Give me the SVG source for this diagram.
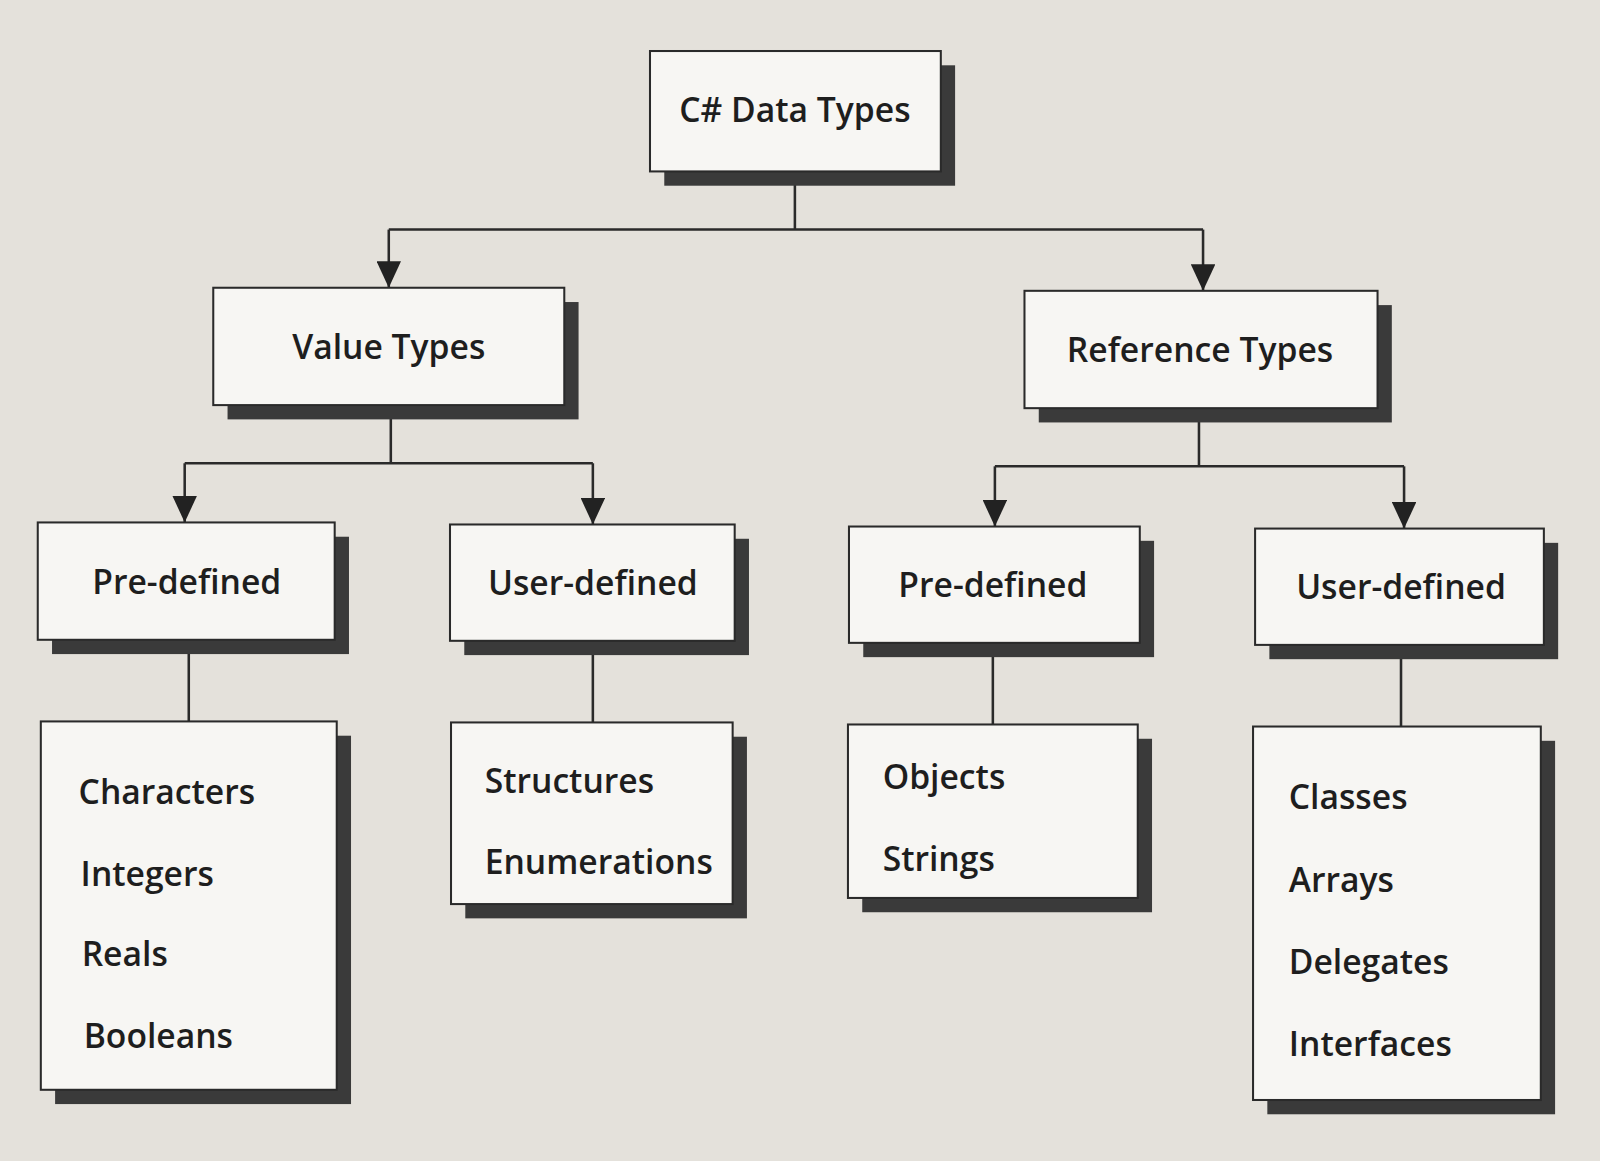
<svg xmlns="http://www.w3.org/2000/svg" width="1600" height="1161" viewBox="0 0 1600 1161">
<style>
.bx{fill:#f7f6f3;stroke:#2a2a2a;stroke-width:2}
.sh{fill:#3a3a3a}
.t{font-family:"Open Sans","Liberation Sans",sans-serif;font-weight:600;font-size:33px;fill:#1e1e1e}
.c{text-anchor:middle}
.ln{stroke:#2a2a2a;stroke-width:2.5;fill:none}
</style>
<defs>
<marker id="ar" viewBox="0 0 26 24" refX="26" refY="12" markerWidth="26" markerHeight="24" markerUnits="userSpaceOnUse" orient="auto"><path d="M0,0 L26,12 L0,24 Z" fill="#222"/></marker></defs>
<rect width="1600" height="1161" fill="#e4e1db"/>
<g transform="scale(1.0204)">
<g id="connectors">
<path class="ln" d="M779,168 V225 M381,225 H1179"/>
<path class="ln" d="M381,225 V282" marker-end="url(#ar)"/>
<path class="ln" d="M1179,225 V285" marker-end="url(#ar)"/>
<path class="ln" d="M383,397 V454 M181,454 H581"/>
<path class="ln" d="M181,454 V512" marker-end="url(#ar)"/>
<path class="ln" d="M581,454 V514" marker-end="url(#ar)"/>
<path class="ln" d="M1175,400 V457 M975,457 H1376"/>
<path class="ln" d="M975,457 V516" marker-end="url(#ar)"/>
<path class="ln" d="M1376,457 V518" marker-end="url(#ar)"/>
<path class="ln" d="M185,627 V707 M581,628 V708 M973,630 V710 M1373,632 V712"/>
</g>
<g id="root"><rect class="sh" x="651" y="64" width="285" height="118"/><rect class="bx" x="637" y="50" width="285" height="118"/><text class="t c" x="779" y="120">C# Data Types</text></g>
<g id="value"><rect class="sh" x="223" y="296" width="344" height="115"/><rect class="bx" x="209" y="282" width="344" height="115"/><text class="t c" x="381" y="352">Value Types</text></g>
<g id="reference"><rect class="sh" x="1018" y="299" width="346" height="115"/><rect class="bx" x="1004" y="285" width="346" height="115"/><text class="t c" x="1176" y="355">Reference Types</text></g>
<g id="vpre"><rect class="sh" x="51" y="526" width="291" height="115"/><rect class="bx" x="37" y="512" width="291" height="115"/><text class="t c" x="183" y="582">Pre-defined</text></g>
<g id="vuser"><rect class="sh" x="455" y="528" width="279" height="114"/><rect class="bx" x="441" y="514" width="279" height="114"/><text class="t c" x="581" y="583">User-defined</text></g>
<g id="rpre"><rect class="sh" x="846" y="530" width="285" height="114"/><rect class="bx" x="832" y="516" width="285" height="114"/><text class="t c" x="973" y="585">Pre-defined</text></g>
<g id="ruser"><rect class="sh" x="1244" y="532" width="283" height="114"/><rect class="bx" x="1230" y="518" width="283" height="114"/><text class="t c" x="1373" y="587">User-defined</text></g>
<g id="vprelist"><rect class="sh" x="54" y="721" width="290" height="361"/><rect class="bx" x="40" y="707" width="290" height="361"/>
<text class="t" x="77" y="788">Characters</text><text class="t" x="79" y="868">Integers</text><text class="t" x="80" y="947">Reals</text><text class="t" x="82" y="1027">Booleans</text></g>
<g id="vuserlist"><rect class="sh" x="456" y="722" width="276" height="178"/><rect class="bx" x="442" y="708" width="276" height="178"/>
<text class="t" x="475" y="777">Structures</text><text class="t" x="475" y="857">Enumerations</text></g>
<g id="rprelist"><rect class="sh" x="845" y="724" width="284" height="170"/><rect class="bx" x="831" y="710" width="284" height="170"/>
<text class="t" x="865" y="773">Objects</text><text class="t" x="865" y="854">Strings</text></g>
<g id="ruserlist"><rect class="sh" x="1242" y="726" width="282" height="366"/><rect class="bx" x="1228" y="712" width="282" height="366"/>
<text class="t" x="1263" y="793">Classes</text><text class="t" x="1263" y="874">Arrays</text><text class="t" x="1263" y="955">Delegates</text><text class="t" x="1263" y="1035">Interfaces</text></g>
</g>
</svg>
